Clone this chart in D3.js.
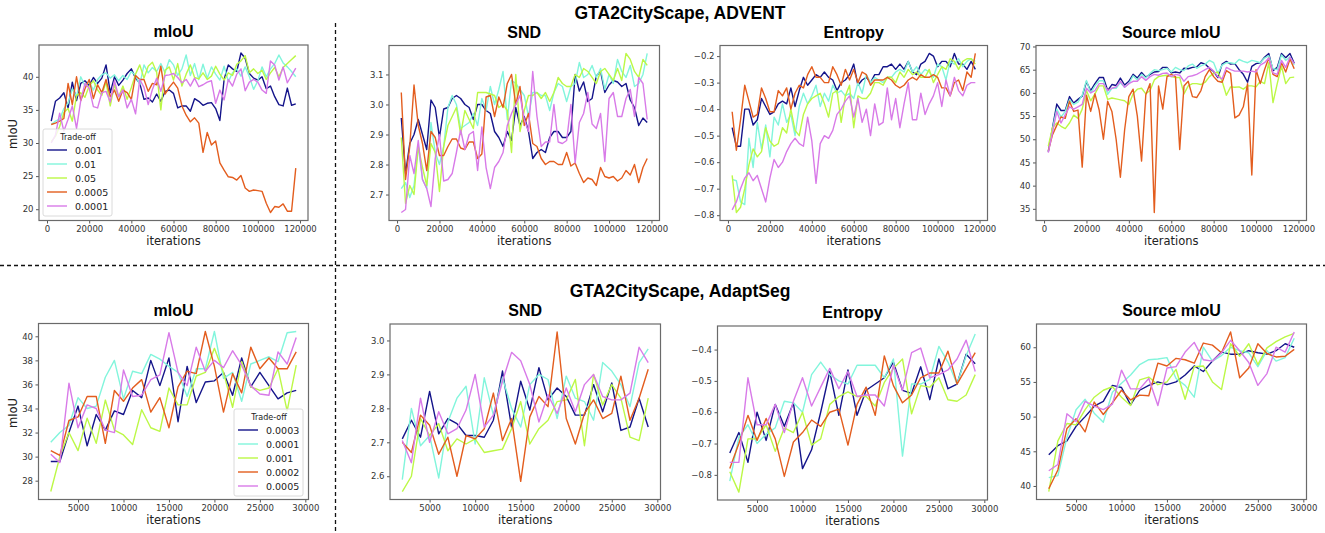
<!DOCTYPE html>
<html>
<head>
<meta charset="utf-8">
<script src="https://cdn.jsdelivr.net/npm/d3@7"></script>
<style>
body { margin: 0; background: #fff; }
</style>
</head>
<body>
<div class="chart-container"></div>
<script>
var width = 1325;
var height = 533;

// x values (iterations)
var advIters = [2000,4000,6000,8000,10000,12000,14000,16000,18000,20000,22000,24000,26000,28000,30000,32000,34000,36000,38000,40000,
	42000,44000,46000,48000,50000,52000,54000,56000,58000,60000,62000,64000,66000,68000,70000,72000,74000,76000,78000,80000,
	82000,84000,86000,88000,90000,92000,94000,96000,98000,100000,102000,104000,106000,108000,110000,112000,114000,116000,118000];
var segIters = [2000,3000,4000,5000,6000,7000,8000,9000,10000,11000,12000,13000,14000,15000,16000,17000,18000,19000,20000,21000,
	22000,23000,24000,25000,26000,27000,28000,29000];

var advLabels = ["0.001", "0.01", "0.05", "0.0005", "0.0001"];
var segLabels = ["0.0003", "0.0001", "0.001", "0.0002", "0.0005"];
var colors = ["#14148a", "#82f5dc", "#bcf846", "#e35d1e", "#d87ae8"];

// ---- GTA2CityScape, ADVENT ----
var advMiou = [
	[33.3,36.3,36.8,37.6,35.3,39.2,36.4,39.0,39.4,38.7, 39.9,39.0,39.8,41.8,37.6,40.0,38.7,39.5,40.5,41.2,
	 39.8,39.0,36.6,36.8,36.2,37.4,36.3,37.8,38.0,37.5, 35.3,35.6,35.6,34.8,36.7,36.3,35.7,36.0,36.1,35.2,
	 33.4,39.6,41.8,41.2,40.8,43.6,42.8,40.5,39.8,39.5, 40.0,38.2,38.6,37.0,35.8,35.6,38.3,35.7,35.9],
	[32.8,33.3,33.6,35.2,36.0,38.2,37.0,40.0,38.6,39.2, 38.0,39.6,40.3,40.6,39.8,40.3,39.4,40.2,39.6,40.8,
	 40.2,38.8,41.8,40.6,41.4,40.8,42.0,40.6,42.6,41.8, 40.2,41.2,43.3,40.2,42.0,39.6,41.9,39.8,41.5,40.4,
	 39.5,41.6,39.3,40.6,41.2,40.1,41.5,40.0,38.1,39.4, 41.5,40.0,41.2,42.0,43.3,42.1,41.5,40.8,40.0],
	[30.2,31.0,32.5,34.6,35.2,33.3,37.2,37.6,36.9,38.6, 39.4,38.0,37.2,39.2,35.6,38.8,37.0,38.6,36.6,38.4,
	 40.4,41.8,39.8,41.6,42.2,40.7,35.0,41.0,41.5,39.5, 42.0,38.6,40.4,41.8,39.9,39.7,40.6,39.6,40.1,41.6,
	 40.4,39.5,40.6,40.2,41.9,42.4,43.2,40.6,41.2,40.5, 41.0,39.6,40.6,41.4,40.0,41.4,42.0,42.6,43.2],
	[32.8,33.0,33.3,33.7,39.0,35.8,40.0,36.4,38.2,39.6, 36.7,38.8,37.6,39.6,37.0,38.0,36.3,38.0,37.6,36.6,
	 40.2,39.6,39.6,37.8,39.0,38.8,41.6,37.4,38.4,39.2, 38.3,35.6,34.2,33.2,33.8,33.0,28.6,31.6,29.7,30.3,
	 27.0,25.9,24.9,24.8,24.4,25.1,23.2,22.7,22.9,22.8, 22.7,20.9,19.5,20.4,20.3,20.8,19.7,19.7,26.2],
	[30.0,31.2,34.5,31.8,33.6,35.6,32.2,36.4,39.0,38.3, 35.5,35.3,37.6,37.8,36.2,39.4,37.0,38.0,35.3,36.6,
	 34.4,39.6,38.4,35.8,38.1,39.8,37.8,40.2,40.3,40.5, 39.9,39.1,39.6,38.6,39.8,38.5,38.8,39.2,39.4,36.0,
	 38.0,36.5,39.6,38.6,40.4,41.2,37.9,39.2,39.6,39.2, 38.0,37.5,42.4,41.8,39.5,41.5,39.1,40.2,41.3]
];

var advSnd = [
	[2.955,2.77,2.87,2.90,2.95,2.90,2.85,3.015,2.99,2.89, 2.985,2.99,3.02,3.03,3.02,3.00,2.99,2.95,3.00,3.00,
	 2.98,2.97,2.91,2.89,2.86,2.91,2.88,2.99,2.93,2.96, 2.91,2.82,2.84,2.85,2.84,2.89,2.91,2.91,2.89,2.89,
	 2.91,3.10,3.045,3.075,3.01,3.02,3.095,3.11,3.04,3.065, 3.08,3.075,3.06,3.07,3.015,2.99,2.93,2.955,2.94],
	[2.72,2.74,2.69,2.73,2.86,2.75,2.72,2.94,2.84,2.80, 2.86,2.99,3.03,3.00,2.92,2.93,2.94,2.97,2.93,3.02,
	 2.98,3.06,3.00,3.05,3.11,2.95,3.08,3.07,3.05,3.03, 2.96,3.04,3.04,3.03,3.03,2.98,3.04,3.07,3.06,3.01,
	 3.06,3.07,3.14,3.09,3.10,3.13,3.09,3.12,3.05,3.10, 3.07,3.15,3.11,3.09,3.13,3.06,3.07,3.10,3.17],
	[2.89,2.67,2.73,2.70,2.86,2.79,2.73,2.87,2.84,2.71, 2.86,2.93,2.96,2.99,2.90,2.98,2.95,2.92,3.04,3.04,
	 3.04,3.035,3.03,2.99,3.00,2.98,2.84,3.10,2.91,2.98, 3.03,3.03,3.04,3.02,3.04,3.01,3.04,3.09,3.07,3.06,
	 3.06,3.10,3.09,3.12,3.11,3.09,3.07,3.11,3.12,3.10, 3.08,3.12,3.08,3.17,3.15,3.11,3.09,3.15,3.13],
	[3.04,2.75,2.86,3.065,2.93,2.87,2.78,2.91,2.89,2.83, 2.83,2.86,2.885,2.885,2.855,2.85,2.875,2.875,2.82,2.835,
	 3.025,3.03,2.96,3.025,2.99,3.07,3.10,3.00,3.06,2.93, 2.97,2.87,2.86,2.82,2.80,2.81,2.81,2.80,2.80,2.84,
	 2.795,2.805,2.77,2.74,2.755,2.75,2.73,2.79,2.76,2.755, 2.76,2.745,2.755,2.78,2.765,2.80,2.74,2.79,2.82],
	[2.64,2.65,2.83,2.77,2.88,2.75,2.72,2.66,2.82,2.90, 2.745,2.75,2.77,2.84,2.915,2.85,2.90,2.91,2.78,2.925,
	 2.79,2.72,2.79,2.81,2.84,2.93,2.97,3.00,3.03,2.95, 2.91,3.11,2.96,2.86,2.875,2.875,3.00,2.875,2.87,2.88,
	 3.00,2.805,2.94,2.97,3.04,2.935,2.92,2.97,2.81,3.02, 3.04,2.96,2.96,3.02,3.05,2.96,3.09,3.07,2.95]
];

var advEntropy = [
	[-0.47,-0.54,-0.54,-0.40,-0.40,-0.46,-0.44,-0.36,-0.39,-0.42, -0.41,-0.38,-0.37,-0.38,-0.32,-0.39,-0.33,-0.28,-0.31,-0.29,
	 -0.27,-0.28,-0.26,-0.28,-0.29,-0.33,-0.30,-0.29,-0.27,-0.23, -0.31,-0.29,-0.28,-0.30,-0.27,-0.27,-0.24,-0.24,-0.23,-0.25,
	 -0.23,-0.25,-0.22,-0.26,-0.27,-0.23,-0.22,-0.19,-0.20,-0.24, -0.22,-0.22,-0.24,-0.19,-0.23,-0.23,-0.25,-0.22,-0.25],
	[-0.665,-0.67,-0.75,-0.76,-0.51,-0.62,-0.45,-0.55,-0.46,-0.58, -0.43,-0.46,-0.38,-0.45,-0.42,-0.50,-0.39,-0.34,-0.38,-0.35,
	 -0.31,-0.39,-0.34,-0.37,-0.31,-0.34,-0.33,-0.35,-0.34,-0.36, -0.30,-0.34,-0.27,-0.30,-0.28,-0.29,-0.30,-0.28,-0.28,-0.26,
	 -0.25,-0.26,-0.22,-0.26,-0.24,-0.27,-0.25,-0.26,-0.28,-0.23, -0.24,-0.29,-0.22,-0.23,-0.21,-0.24,-0.22,-0.21,-0.22],
	[-0.65,-0.79,-0.77,-0.70,-0.61,-0.55,-0.58,-0.56,-0.47,-0.52, -0.54,-0.53,-0.47,-0.49,-0.40,-0.48,-0.50,-0.42,-0.38,-0.36,
	 -0.35,-0.34,-0.38,-0.43,-0.34,-0.33,-0.45,-0.35,-0.31,-0.47, -0.35,-0.36,-0.36,-0.34,-0.30,-0.30,-0.31,-0.28,-0.28,-0.30,
	 -0.26,-0.28,-0.25,-0.27,-0.26,-0.28,-0.28,-0.25,-0.30,-0.27, -0.24,-0.25,-0.21,-0.22,-0.25,-0.22,-0.21,-0.21,-0.23],
	[-0.41,-0.555,-0.44,-0.31,-0.37,-0.43,-0.42,-0.32,-0.36,-0.41, -0.41,-0.33,-0.35,-0.32,-0.40,-0.34,-0.31,-0.32,-0.27,-0.24,
	 -0.28,-0.28,-0.30,-0.30,-0.24,-0.27,-0.31,-0.25,-0.29,-0.25, -0.30,-0.26,-0.27,-0.31,-0.29,-0.29,-0.29,-0.28,-0.29,-0.31,
	 -0.32,-0.31,-0.29,-0.28,-0.29,-0.27,-0.28,-0.28,-0.27,-0.28, -0.32,-0.32,-0.35,-0.30,-0.29,-0.33,-0.26,-0.28,-0.19],
	[-0.78,-0.75,-0.70,-0.66,-0.64,-0.67,-0.65,-0.70,-0.75,-0.66, -0.59,-0.62,-0.60,-0.56,-0.53,-0.51,-0.53,-0.54,-0.43,-0.52,
	 -0.68,-0.53,-0.50,-0.51,-0.48,-0.42,-0.40,-0.37,-0.35,-0.43, -0.36,-0.45,-0.40,-0.50,-0.38,-0.46,-0.45,-0.32,-0.44,-0.36,
	 -0.47,-0.38,-0.30,-0.44,-0.44,-0.34,-0.42,-0.38,-0.35,-0.30, -0.39,-0.29,-0.35,-0.28,-0.33,-0.35,-0.31,-0.30,-0.30]
];

var advSource = [
	[47.3,52.5,57.6,56.2,56.2,59.2,57.8,58.6,59.3,62.4, 60.5,62.0,63.3,63.3,60.5,61.8,61.6,63.2,61.7,62.5,
	 64.0,63.2,64.4,63.4,64.0,64.5,64.6,65.5,65.5,64.3, 64.5,64.3,65.3,65.2,65.5,65.6,66.5,66.2,65.3,64.6,
	 63.3,66.2,66.8,66.2,66.3,65.0,64.0,62.3,65.7,66.3, 66.5,67.7,68.5,64.8,65.5,68.5,67.6,68.5,66.4],
	[47.5,52.3,56.5,54.8,56.0,58.5,57.5,58.0,59.5,62.7, 60.0,61.5,62.6,62.6,59.7,61.0,61.0,62.2,61.2,62.0,
	 63.7,62.8,64.0,63.2,64.2,65.0,64.8,65.0,65.3,64.5, 65.5,65.0,64.8,65.8,66.2,65.3,65.8,66.2,67.0,66.5,
	 64.2,66.0,66.5,66.5,66.3,67.2,66.8,66.5,67.0,66.8, 66.5,67.5,68.0,65.2,65.0,68.2,67.0,67.8,66.0],
	[48.5,52.5,53.5,52.8,52.3,53.5,55.2,54.5,56.5,60.5, 58.3,59.8,61.5,61.5,58.6,58.9,58.7,58.5,58.3,57.5,
	 59.8,60.8,61.0,59.8,60.5,62.8,63.5,63.7,63.8,63.5, 63.3,63.3,59.8,61.5,62.0,62.0,61.8,62.3,63.5,64.2,
	 64.5,62.5,59.5,61.3,61.2,61.3,60.8,61.5,61.5,61.3, 62.5,62.0,66.5,57.9,62.0,65.8,62.0,63.3,63.4],
	[47.5,51.0,53.0,54.8,54.5,58.2,56.0,56.3,44.0,59.5, 56.0,59.8,56.3,50.0,58.2,56.0,50.0,41.8,52.0,59.2,
	 60.8,55.0,45.3,59.6,62.0,34.2,61.5,56.5,63.5,64.0, 63.5,47.8,61.5,62.5,59.2,59.0,60.5,63.5,65.0,63.5,
	 62.5,62.3,64.8,64.2,54.6,55.2,57.0,62.0,42.3,65.0, 62.0,65.0,67.5,64.0,63.5,66.5,64.5,67.3,65.2],
	[47.1,51.5,56.0,53.5,55.3,57.0,56.5,57.0,57.5,61.0, 60.0,60.5,62.0,62.0,60.5,61.0,61.3,62.5,61.2,62.0,
	 62.5,62.5,63.5,62.7,63.5,64.0,63.8,64.2,64.3,63.5, 64.0,63.8,62.5,63.5,63.7,64.0,64.5,65.0,65.5,64.7,
	 63.5,63.0,65.5,65.0,64.7,64.7,64.7,64.5,64.7,64.5, 66.0,66.5,67.5,64.3,64.0,67.0,65.5,67.7,66.3]
];

// ---- GTA2CityScape, AdaptSeg ----
var segMiou = [
	[29.6,29.6,32.0,34.2,30.9,33.5,32.2,33.8,33.5,35.5,34.9,38.0,35.9,38.2,32.9,37.5,34.5,36.2,36.3,37.0,35.1,38.2,35.8,37.0,35.9,34.8,35.3,35.5],
	[31.2,32.0,32.6,34.9,34.0,34.2,36.6,38.0,34.8,37.1,36.9,38.5,38.1,37.5,37.0,35.0,37.3,37.3,40.4,36.5,37.0,34.6,37.7,38.0,38.3,37.9,40.3,40.4],
	[27.1,30.0,32.0,30.5,33.2,31.1,34.7,32.2,31.8,31.0,33.9,32.4,32.1,35.7,34.3,34.3,36.7,37.0,39.0,37.0,34.1,37.9,35.8,35.5,35.7,37.3,33.8,37.6],
	[30.5,30.1,33.0,33.3,35.0,35.0,31.1,35.5,34.6,35.7,36.4,33.7,34.9,32.4,35.8,37.1,36.9,40.4,37.5,33.7,36.9,35.3,39.1,37.3,38.2,37.3,37.3,38.7],
	[30.2,29.5,36.1,32.4,34.3,34.0,32.2,32.0,37.2,35.0,35.1,36.4,36.8,40.3,37.0,35.9,39.1,37.1,38.0,37.4,38.8,37.6,35.9,35.2,35.1,38.7,37.7,39.9]
];

var segSnd = [
	[2.71,2.765,2.715,2.85,2.725,2.77,2.755,2.72,2.72,2.715,2.765,2.91,2.745,2.88,2.795,2.92,2.825,2.86,2.835,2.78,2.78,2.87,2.79,2.875,2.735,2.745,2.83,2.745],
	[2.59,2.80,2.69,2.72,2.595,2.76,2.83,2.865,2.695,2.89,2.78,2.89,2.80,2.745,2.87,2.90,2.885,2.77,2.895,2.83,2.82,2.765,2.935,2.91,2.87,2.805,2.935,2.975],
	[2.555,2.60,2.77,2.72,2.755,2.675,2.71,2.695,2.71,2.67,2.675,2.68,2.74,2.82,2.695,2.74,2.765,2.82,2.825,2.885,2.69,2.90,2.81,2.87,2.83,2.715,2.705,2.83],
	[2.70,2.67,2.78,2.75,2.665,2.715,2.60,2.72,2.71,2.74,2.845,2.705,2.77,2.585,2.775,2.835,2.805,3.025,2.77,2.695,2.785,2.825,2.77,2.785,2.895,2.765,2.83,2.915],
	[2.705,2.64,2.83,2.70,2.79,2.725,2.74,2.795,2.90,2.745,2.78,2.88,2.965,2.94,2.87,2.76,2.84,2.785,2.86,2.79,2.87,2.90,2.835,2.825,2.825,2.845,2.98,2.935]
];

var segEntropy = [
	[-0.73,-0.665,-0.76,-0.60,-0.69,-0.575,-0.645,-0.57,-0.78,-0.72,-0.60,-0.47,-0.61,-0.465,-0.61,-0.53,-0.51,-0.49,-0.44,-0.53,-0.54,-0.455,-0.56,-0.43,-0.525,-0.51,-0.415,-0.445],
	[-0.82,-0.68,-0.64,-0.70,-0.67,-0.65,-0.565,-0.57,-0.60,-0.48,-0.44,-0.48,-0.50,-0.51,-0.45,-0.45,-0.45,-0.49,-0.43,-0.74,-0.51,-0.51,-0.495,-0.39,-0.44,-0.51,-0.42,-0.35],
	[-0.79,-0.855,-0.685,-0.685,-0.64,-0.725,-0.65,-0.665,-0.60,-0.705,-0.685,-0.575,-0.55,-0.535,-0.55,-0.55,-0.58,-0.505,-0.46,-0.43,-0.605,-0.515,-0.52,-0.49,-0.56,-0.565,-0.545,-0.48],
	[-0.78,-0.70,-0.61,-0.69,-0.62,-0.685,-0.805,-0.695,-0.665,-0.625,-0.645,-0.60,-0.59,-0.705,-0.575,-0.52,-0.61,-0.42,-0.515,-0.57,-0.545,-0.49,-0.475,-0.475,-0.405,-0.51,-0.46,-0.41],
	[-0.76,-0.76,-0.49,-0.64,-0.64,-0.575,-0.665,-0.565,-0.49,-0.58,-0.52,-0.46,-0.525,-0.47,-0.55,-0.545,-0.545,-0.58,-0.45,-0.53,-0.41,-0.395,-0.49,-0.48,-0.465,-0.43,-0.37,-0.47]
];

var segSource = [
	[44.5,45.8,46.5,48.6,50.0,51.5,52.2,54.5,54.2,51.7,53.8,54.5,55.0,54.6,55.0,56.0,57.3,56.5,58.0,59.3,59.0,59.0,59.5,59.2,59.0,59.5,60.5,60.0],
	[41.2,41.5,47.0,51.0,52.5,50.5,49.2,53.5,54.8,56.0,57.5,58.2,58.3,58.5,55.5,54.5,52.8,60.0,58.0,58.8,60.0,59.5,59.2,57.2,59.5,58.0,58.5,61.3],
	[39.2,46.5,49.0,48.8,51.0,52.8,53.8,54.3,52.8,51.6,55.3,55.7,54.6,55.0,56.8,52.5,57.2,57.3,55.0,53.9,60.5,58.7,60.5,57.5,59.9,60.8,61.5,62.0],
	[39.6,42.3,48.3,49.7,47.8,52.1,50.3,52.0,53.8,52.4,53.1,53.0,57.7,57.3,58.4,58.2,57.7,60.6,60.3,59.2,62.2,55.6,57.0,60.5,59.1,58.6,58.7,59.7],
	[42.2,43.1,50.4,49.3,52.2,51.5,51.0,51.8,56.7,54.0,54.0,55.5,51.6,57.0,57.2,59.3,60.7,58.2,58.0,59.2,61.0,59.5,57.8,54.5,56.2,60.0,59.3,62.2]
];

// tick values
var advXTicks = [0, 20000, 40000, 60000, 80000, 100000, 120000];
var segXTicks = [5000, 10000, 15000, 20000, 25000, 30000];
var advMiouTicks = [20, 25, 30, 35, 40];
var advSndTicks = [2.7, 2.8, 2.9, 3.0, 3.1];
var advEntropyTicks = [-0.8, -0.7, -0.6, -0.5, -0.4, -0.3, -0.2];
var advSourceTicks = [35, 40, 45, 50, 55, 60, 65, 70];
var segMiouTicks = [28, 30, 32, 34, 36, 38, 40];
var segSndTicks = [2.6, 2.7, 2.8, 2.9, 3.0];
var segEntropyTicks = [-0.8, -0.7, -0.6, -0.5, -0.4];
var segSourceTicks = [40, 45, 50, 55, 60];

var tickFont = "DejaVu Sans, sans-serif";
var titleFont = "Liberation Sans, Arial, sans-serif";

var svg = d3.select(".chart-container").append("svg")
	.attr("width", width).attr("height", height)
	.style("font-family", tickFont);

svg.append("rect").attr("width", width).attr("height", height).attr("fill", "#fff");

/* Draw one subplot. box = [left, right, top, bottom] */
function drawPanel(box, xs, series, xTicks, yTicks, yFmt, title, legend) {
	var g = svg.append("g");
	var xe = d3.extent(xs), xr = xe[1] - xe[0];
	var ye = d3.extent(d3.merge(series)), yr = ye[1] - ye[0];
	// matplotlib-like 5% margins
	var x = d3.scaleLinear().domain([xe[0] - 0.05 * xr, xe[1] + 0.05 * xr]).range([box[0], box[1]]);
	var y = d3.scaleLinear().domain([ye[0] - 0.05 * yr, ye[1] + 0.05 * yr]).range([box[3], box[2]]);

	var line = d3.line()
		.x(function(d, i) { return x(xs[i]); })
		.y(function(d) { return y(d); });

	series.forEach(function(s, k) {
		g.append("path")
			.attr("d", line(s))
			.attr("fill", "none")
			.attr("stroke", colors[k])
			.attr("stroke-width", 1.4)
			.attr("stroke-linejoin", "round");
	});

	var xAxis = g.append("g")
		.attr("transform", "translate(0," + box[3] + ")")
		.call(d3.axisBottom(x).tickValues(xTicks).tickFormat(d3.format("d")).tickSize(3).tickPadding(2.5));
	var yAxis = g.append("g")
		.attr("transform", "translate(" + box[0] + ",0)")
		.call(d3.axisLeft(y).tickValues(yTicks).tickFormat(d3.format(yFmt)).tickSize(3).tickPadding(2.5));
	[xAxis, yAxis].forEach(function(a) {
		a.select(".domain").remove();
		a.selectAll("line").attr("stroke", "#444").attr("stroke-width", 0.9);
		a.selectAll("text").attr("fill", "#333").style("font-size", "8.5px").style("font-family", tickFont);
	});

	g.append("rect")
		.attr("x", box[0]).attr("y", box[2])
		.attr("width", box[1] - box[0]).attr("height", box[3] - box[2])
		.attr("fill", "none").attr("stroke", "#6a6a6a").attr("stroke-width", 1.2);

	g.append("text")
		.attr("x", (box[0] + box[1]) / 2).attr("y", box[2] - 8)
		.attr("text-anchor", "middle")
		.style("font-family", titleFont).style("font-weight", "bold").style("font-size", "16px")
		.text(title);

	g.append("text")
		.attr("x", (box[0] + box[1]) / 2).attr("y", box[3] + 24.5)
		.attr("text-anchor", "middle")
		.style("font-size", "11.5px").attr("fill", "#222")
		.text("iterations");

	if (legend) drawLegend(g, legend.x, legend.y, legend.labels);
}

function drawLegend(g, lx, ly, labels) {
	var lg = g.append("g").attr("transform", "translate(" + lx + "," + ly + ")");
	lg.append("rect")
		.attr("width", 69).attr("height", 87).attr("rx", 2)
		.attr("fill", "#fff").attr("fill-opacity", 0.8)
		.attr("stroke", "#d0d0d0").attr("stroke-width", 0.8);
	lg.append("text")
		.attr("x", 35).attr("y", 11)
		.attr("text-anchor", "middle")
		.style("font-size", "8px").attr("fill", "#222")
		.text("Trade-off");
	labels.forEach(function(lab, k) {
		var cy = 21 + k * 14;
		lg.append("line")
			.attr("x1", 4).attr("x2", 24).attr("y1", cy).attr("y2", cy)
			.attr("stroke", colors[k]).attr("stroke-width", 1.4);
		lg.append("text")
			.attr("x", 32).attr("y", cy + 3.5)
			.style("font-size", "9.5px").attr("fill", "#222")
			.text(lab);
	});
}

// top row
drawPanel([39, 308, 45, 220.5], advIters, advMiou, advXTicks, advMiouTicks, "d", "mIoU",
	{ x: 43, y: 129, labels: advLabels });
drawPanel([389, 659.5, 45.5, 220.5], advIters, advSnd, advXTicks, advSndTicks, ".1f", "SND");
drawPanel([720, 987.5, 45.5, 220.5], advIters, advEntropy, advXTicks, advEntropyTicks, ".1f", "Entropy");
drawPanel([1036, 1306.5, 45.5, 220.5], advIters, advSource, advXTicks, advSourceTicks, "d", "Source mIoU");

// bottom row
drawPanel([38.5, 308.5, 323.5, 499.5], segIters, segMiou, segXTicks, segMiouTicks, "d", "mIoU",
	{ x: 234, y: 409, labels: segLabels });
drawPanel([390, 660.5, 324, 499.5], segIters, segSnd, segXTicks, segSndTicks, ".1f", "SND");
drawPanel([717.5, 987.5, 326, 500], segIters, segEntropy, segXTicks, segEntropyTicks, ".1f", "Entropy");
drawPanel([1036.5, 1306.5, 324, 499.5], segIters, segSource, segXTicks, segSourceTicks, "d", "Source mIoU");

// y labels on the left panels
[134, 413].forEach(function(cy) {
	svg.append("text")
		.attr("transform", "translate(17," + cy + ") rotate(-90)")
		.attr("text-anchor", "middle")
		.style("font-size", "11.5px").attr("fill", "#222")
		.text("mIoU");
});

// group headings
svg.append("text")
	.attr("x", 680).attr("y", 19)
	.attr("text-anchor", "middle")
	.style("font-family", titleFont).style("font-weight", "bold").style("font-size", "17.5px")
	.text("GTA2CityScape, ADVENT");
svg.append("text")
	.attr("x", 680).attr("y", 297)
	.attr("text-anchor", "middle")
	.style("font-family", titleFont).style("font-weight", "bold").style("font-size", "17.5px")
	.text("GTA2CityScape, AdaptSeg");

// dashed separators
svg.append("line")
	.attr("x1", 0).attr("x2", width).attr("y1", 265.5).attr("y2", 265.5)
	.attr("stroke", "#111").attr("stroke-width", 1.3).attr("stroke-dasharray", "4,3");
svg.append("line")
	.attr("x1", 335.5).attr("x2", 335.5).attr("y1", 23).attr("y2", height)
	.attr("stroke", "#111").attr("stroke-width", 1.3).attr("stroke-dasharray", "4,3");
</script>
</body>
</html>
